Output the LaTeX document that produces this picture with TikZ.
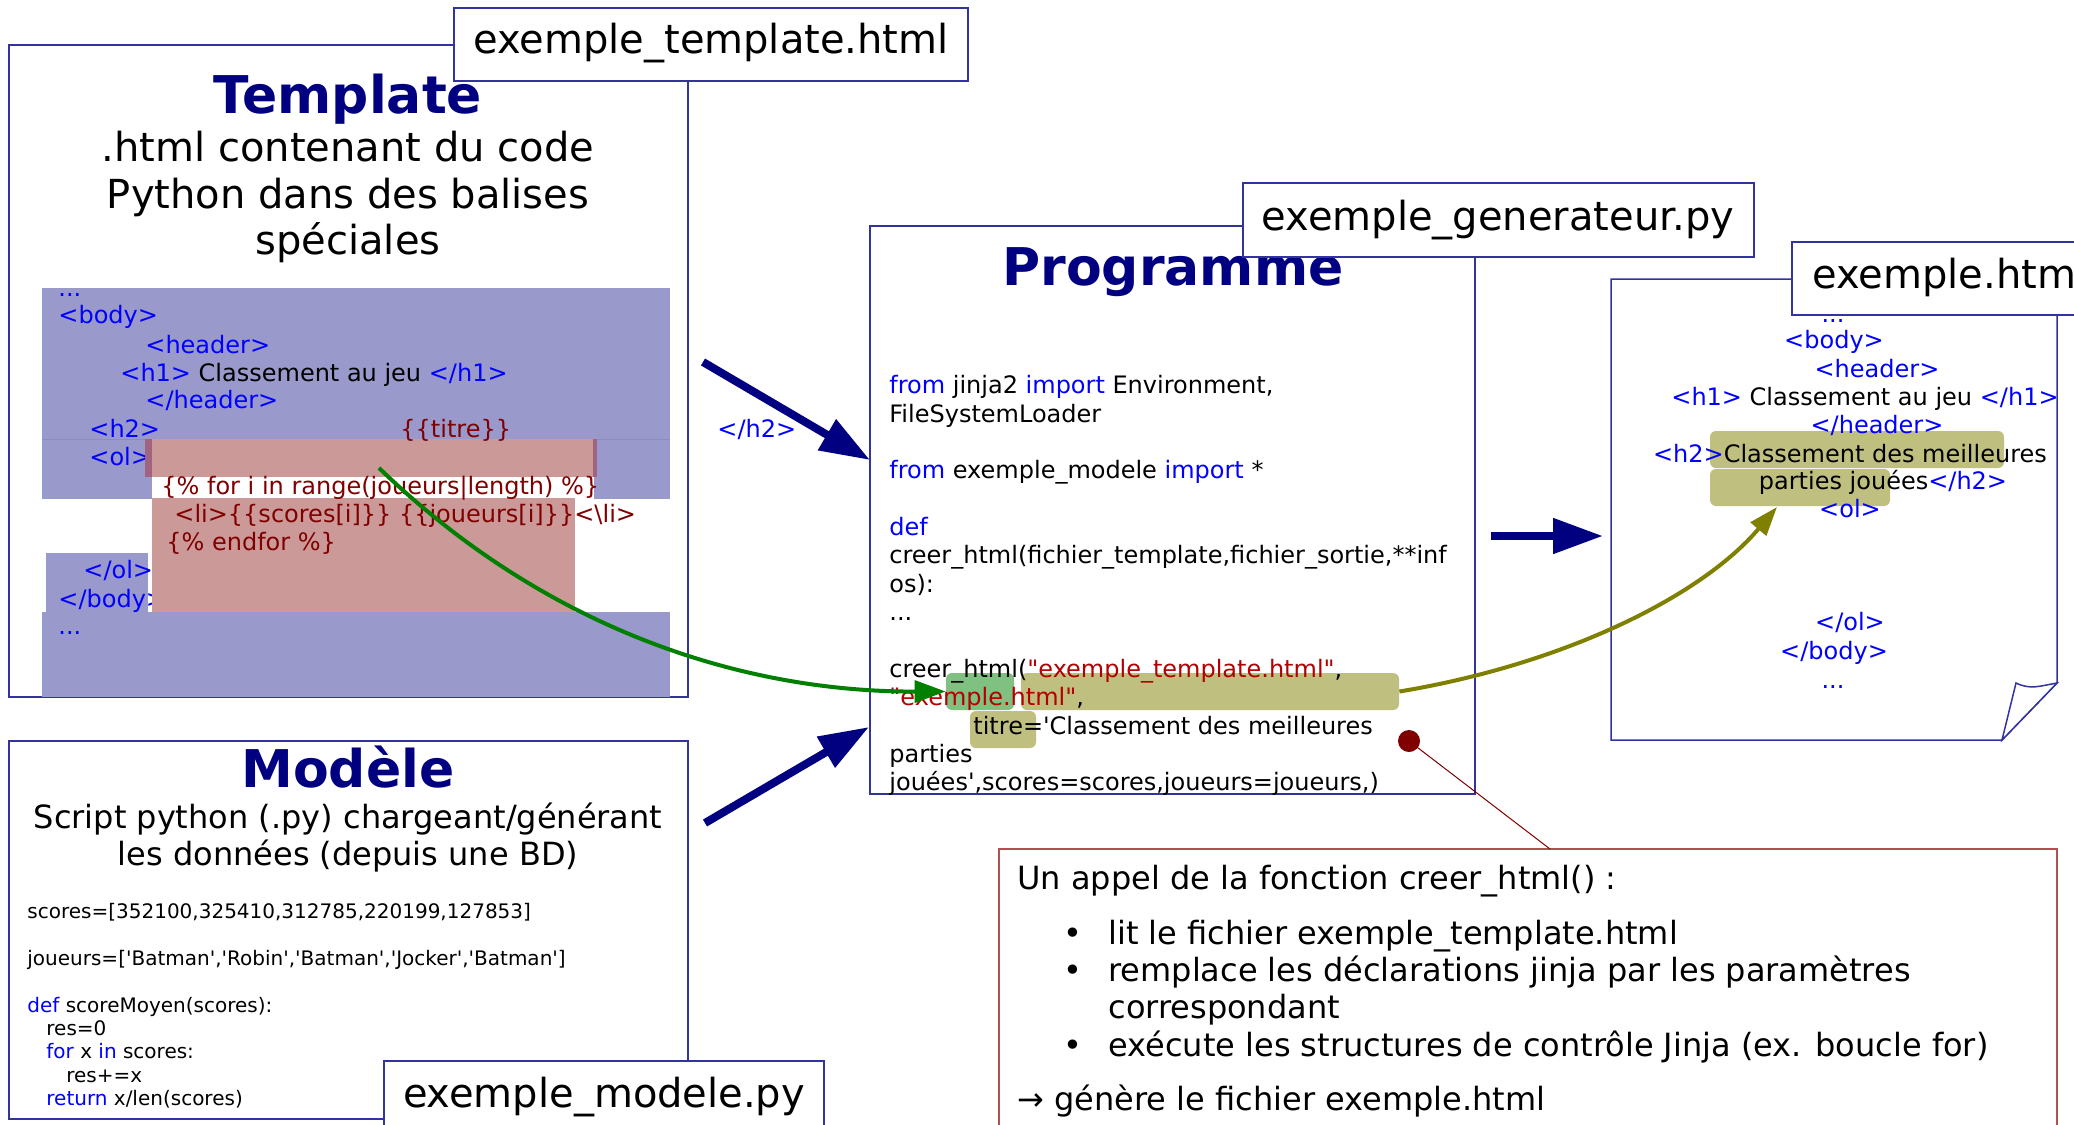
\documentclass[tikz,border=0pt]{standalone}
\usepackage{fontspec}
\setmainfont{DejaVu Sans}[Ligatures=TeXOff]
\usetikzlibrary{arrows.meta,fit}
\definecolor{frame}{RGB}{51,51,160}
\definecolor{navyc}{RGB}{0,0,128}
\definecolor{tagblue}{RGB}{0,0,255}
\definecolor{jred}{RGB}{128,0,0}
\definecolor{sred}{RGB}{180,0,0}
\definecolor{hblue}{RGB}{153,153,204}
\definecolor{hbluedk}{RGB}{140,140,196}
\definecolor{hred}{RGB}{204,153,153}
\definecolor{hredd}{RGB}{160,100,128}
\definecolor{hgreen}{RGB}{128,192,128}
\definecolor{holive}{RGB}{191,191,128}
\definecolor{arrgreen}{RGB}{0,128,0}
\definecolor{arrolive}{RGB}{128,128,0}
\definecolor{callred}{RGB}{176,80,80}
\newcommand{\kwd}[1]{\textcolor{tagblue}{#1}}
\newcommand{\jrd}[1]{\textcolor{jred}{#1}}
\newcommand{\srd}[1]{\textcolor{sred}{#1}}
\tikzset{
  box/.style={draw=frame, line width=0.75pt, fill=white, inner sep=0pt},
  hl/.style={inner sep=0pt, rounded corners=3pt, draw=none},
  ttl/.style={font=\fontsize{26}{30}\selectfont\bfseries, text=navyc, anchor=base, inner sep=0pt},
  sub/.style={font=\fontsize{20}{23.3}\selectfont, anchor=base, inner sep=0pt},
  tagtxt/.style={font=\fontsize{20}{23.3}\selectfont, anchor=base, inner sep=0pt},
  code/.style={font=\fontsize{12}{14}\selectfont, anchor=base west, inner sep=0pt},
  codec/.style={font=\fontsize{12}{14}\selectfont, anchor=base, inner sep=0pt},
  smallcode/.style={font=\fontsize{10}{12}\selectfont, anchor=base west, inner sep=0pt},
  call/.style={font=\fontsize{16}{18.6}\selectfont, anchor=base west, inner sep=0pt},
  bigarrow/.style={draw=navyc, line width=4pt, -{Triangle[length=25pt,width=17pt]}},
  garrow/.style={draw=arrgreen, line width=2pt, -{Triangle[length=15.5pt,width=11pt]}},
  oarrow/.style={draw=arrolive, line width=2pt, -{Triangle[length=14.5pt,width=10pt]}},
}
\begin{document}
\begin{tikzpicture}[x=0.5pt,y=-0.5pt]
\useasboundingbox (0,0) rectangle (2074,1125);
\clip (0,0) rectangle (2074,1125);
\fill[white] (0,0) rectangle (2074,1125);

% ===== Template =====
\node[box, fit={(9,45)(688,697)}] (tpl) {};
\fill[hblue] (42,288) rectangle (670,499);
\draw[hbluedk, line width=0.5pt] (42,439) -- (670,439);
\fill[hblue] (46,553) rectangle (148,612);
\fill[hblue] (42,612) rectangle (670,697);
\node[code, text=tagblue] (h1) at (58,296) {...};
\node[code, text=tagblue] (h2) at (58,323) {<body>};
\node[code, text=tagblue] (h3) at (145,353) {<header>};
\node[code] (h4) at (120,381) {\kwd{<h1>} Classement au jeu \kwd{</h1>}};
\node[code, text=tagblue] (h5) at (145,408) {</header>};
\node[code, text=tagblue] (h6) at (89,437) {<h2>};
\node[code, text=tagblue] (h7) at (89,465) {<ol>};
\node[code, text=tagblue] (h8) at (83,578) {</ol>};
\node[code, text=tagblue] (h9) at (58,607) {</body>};
\node[code, text=tagblue] (h10) at (58,634) {...};
\fill[hred] (145,439) rectangle (597,477);
\fill[hredd] (145,439) rectangle (152,477);
\fill[hredd] (593,439) rectangle (597,477);
\fill[white] (152,477) rectangle (594,499);
\fill[hred] (152,498) rectangle (575,612);
\node[code, text=jred] (j1) at (400,437) {\{\{titre\}\}};
\node[code, text=jred] (j2) at (161,494) {\{\% for i in range(joueurs|length) \%\}};
\node[code, text=jred] (j3) at (174,522) {<li>\{\{scores[i]\}\} \{\{joueurs[i]\}\}<\textbackslash li>};
\node[code, text=jred] (j4) at (166,550) {\{\% endfor \%\}};
\node[code, text=tagblue] (h2c) at (717,437) {</h2>};
\node[ttl] (tplT) at (348,113) {Template};
\node[sub] (tplS1) at (348,161) {.html contenant du code};
\node[sub] (tplS2) at (348,208) {Python dans des balises};
\node[sub] (tplS3) at (348,254) {spéciales};
\node[box, fit={(454,8)(968,81)}] (tplTag) {};
\node[tagtxt] (tplTagT) at (711,53) {exemple\_template.html};

% ===== Modele =====
\node[box, fit={(9,741)(688,1119)}] (mod) {};
\node[ttl] (modT) at (348,787) {Modèle};
\node[call, anchor=base] (modS1) at (348,828) {Script python (.py) chargeant/générant};
\node[call, anchor=base] (modS2) at (348,865) {les données (depuis une BD)};
\node[smallcode] (m1) at (27,918) {scores=[352100,325410,312785,220199,127853]};
\node[smallcode] (m2) at (27,965) {joueurs=['Batman','Robin','Batman','Jocker','Batman']};
\node[smallcode] (m3) at (27,1012) {\kwd{def} scoreMoyen(scores):};
\node[smallcode] (m4) at (46,1035) {res=0};
\node[smallcode] (m5) at (46,1058) {\kwd{for} x \kwd{in} scores:};
\node[smallcode] (m6) at (66,1082) {res+=x};
\node[smallcode] (m7) at (46,1105) {\kwd{return} x/len(scores)};
\node[box, fit={(384,1061)(824,1140)}] (modTag) {};
\node[tagtxt] (modTagT) at (604,1107) {exemple\_modele.py};

% ===== Programme =====
\node[box, fit={(870,226)(1475,794)}] (prg) {};
\node[hl, fill=hgreen, fit={(946,673)(1014,710)}] (hlg) {};
\node[hl, fill=holive, fit={(1021,673)(1399,710)}] (hlo) {};
\node[hl, fill=holive, fit={(970,711)(1036,748)}] (hlo2) {};
\node[ttl] (prgT) at (1173,285) {Programme};
\node[code] (p1) at (889,393) {\kwd{from} jinja2 \kwd{import} Environment,};
\node[code] (p2) at (889,422) {FileSystemLoader};
\node[code] (p3) at (889,478) {\kwd{from} exemple\_modele \kwd{import} *};
\node[code] (p4) at (889,535) {\kwd{def}};
\node[code] (p5) at (889,563) {creer\_html(fichier\_template,fichier\_sortie,**inf};
\node[code] (p6) at (889,592) {os):};
\node[code] (p7) at (889,620) {...};
\node[code] (p8) at (889,677) {creer\_html(\srd{"exemple\_template.html"},};
\node[code] (p9) at (889,705) {\srd{"exemple.html"},};
\node[code] (p10) at (973,734) {titre='Classement des meilleures};
\node[code] (p11) at (889,762) {parties};
\node[code] (p12) at (889,790) {jouées',scores=scores,joueurs=joueurs,)};
\node[box, fit={(1243,183)(1754,257)}] (prgTag) {};
\node[tagtxt] (prgTagT) at (1498,230) {exemple\_generateur.py};

% ===== exemple.html =====
\node[inner sep=0pt, fit={(1611,279)(2057,740)}] (out) {};
\draw[frame, line width=0.75pt, fill=white] (1611,279) -- (2057,279) -- (2057,683) -- (2002,740) -- (1611,740) -- cycle;
\draw[frame, line width=0.75pt, fill=white] (2002,740) -- (2016,683) .. controls (2030,690) and (2040,686) .. (2057,683) -- cycle;
\node[hl, fill=holive, fit={(1710,431)(2004,468)}] (hlx1) {};
\node[hl, fill=holive, fit={(1710,469)(1890,506)}] (hlx2) {};
\node[codec, text=tagblue] (o1) at (1833,322) {...};
\node[codec, text=tagblue] (o2) at (1834,348) {<body>};
\node[codec, text=tagblue] (o3) at (1877,377) {<header>};
\node[codec] (o4) at (1865,405) {\kwd{<h1>} Classement au jeu \kwd{</h1>}};
\node[codec, text=tagblue] (o5) at (1877,433) {</header>};
\node[codec] (o6) at (1850,462) {\kwd{<h2>}Classement des meilleures};
\node[codec] (o7) at (1883,489) {parties jouées\kwd{</h2>}};
\node[codec, text=tagblue] (o8) at (1850,517) {<ol>};
\node[codec, text=tagblue] (o9) at (1850,630) {</ol>};
\node[codec, text=tagblue] (o10) at (1834,659) {</body>};
\node[codec, text=tagblue] (o11) at (1833,688) {...};
\node[box, fit={(1792,242)(2120,315)}] (outTag) {};
\node[tagtxt, anchor=base west] (outTagT) at (1812,288) {exemple.html};

% ===== Callout =====
\node[draw=callred, line width=0.75pt, fill=white, inner sep=0pt, fit={(999,849)(2057,1140)}] (callb) {};
\coordinate (dotc) at (1409,741);
\coordinate (callpt) at (1550,849);
\draw[jred, line width=0.5pt] (dotc) -- (callpt);
\node[circle, fill=jred, minimum size=11pt, inner sep=0pt] (dot) at (dotc) {};
\node[call] (c1) at (1017,889) {Un appel de la fonction creer\_html() :};
\node[call] (b1) at (1063,944) {•};
\node[call] (c2) at (1108,944) {lit le fichier exemple\_template.html};
\node[call] (b2) at (1063,981) {•};
\node[call] (c3) at (1108,981) {remplace les déclarations jinja par les paramètres};
\node[call] (c4) at (1108,1018) {correspondant};
\node[call] (b3) at (1063,1056) {•};
\node[call] (c5) at (1108,1056) {exécute les structures de contrôle Jinja (ex. boucle for)};
\node[call] (c6) at (1017,1110) {→ génère le fichier exemple.html};

% ===== Arrows =====
\coordinate (a1s) at (703,362);
\coordinate (a1e) at (870,460);
\coordinate (a2s) at (705,823);
\coordinate (a2e) at (869,727);
\coordinate (a3s) at (1491,536);
\coordinate (a3e) at (1603,536);
\draw[bigarrow] (a1s) -- (a1e);
\draw[bigarrow] (a2s) -- (a2e);
\draw[bigarrow] (a3s) -- (a3e);
\coordinate (gs) at (379,468);
\draw[garrow] (gs) .. controls (545,628) and (740,692) .. (hlg.west);
\coordinate (oe) at (1777,507);
\draw[oarrow] (hlo.east) .. controls (1560,665) and (1700,598) .. (oe);
\end{tikzpicture}
\end{document}
